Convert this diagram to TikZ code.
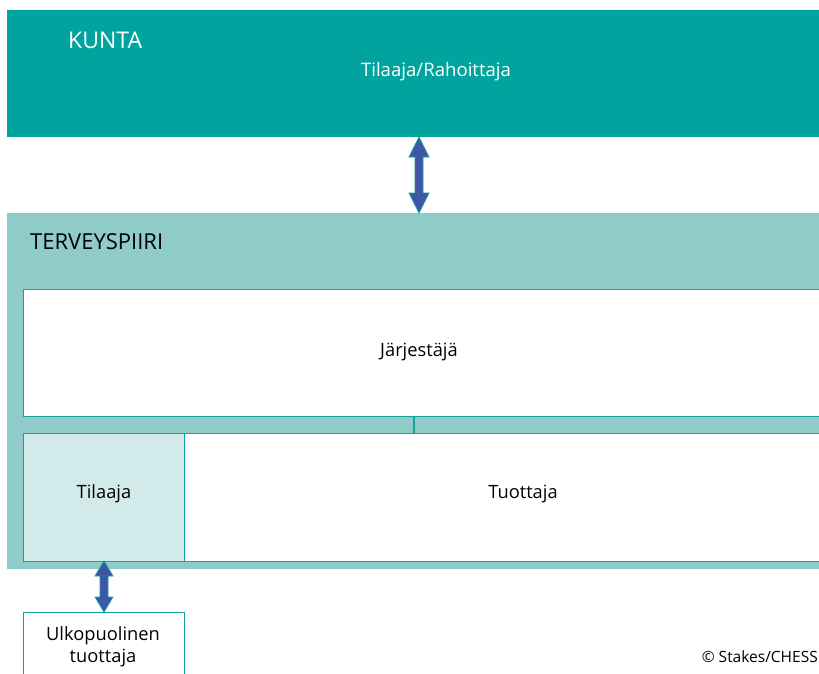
\documentclass[tikz,border=0pt]{standalone}
\usepackage{fontspec}
\setmainfont{Open Sans}
\definecolor{kunta}{HTML}{00A39E}
\definecolor{terv}{HTML}{8FCCC9}
\definecolor{tilaajafill}{HTML}{D3EAEA}
\definecolor{edge}{HTML}{13A39A}
\definecolor{arrowblue}{HTML}{3F56A6}
\begin{document}
\begin{tikzpicture}[x=1pt,y=-1pt,
  band/.style={draw=none,inner sep=0pt,anchor=north west},
  whitebox/.style={draw=edge,line width=1.2pt,fill=white,inner sep=0pt,anchor=north west},
  lbl/.style={font=\fontsize{18.3}{22}\selectfont,text=black},
  dblarrow/.style={fill=arrowblue,draw=edge,line width=0.8pt,line join=miter}]
\useasboundingbox (0,0) rectangle (819,673);
\clip (0,0) rectangle (819,673);
% KUNTA
\node[band,fill=kunta,minimum width=830pt,minimum height=127pt] (kunta) at (7,10) {};
\node[anchor=west,text=white,font=\fontsize{23}{26}\selectfont,inner sep=0pt] (kuntat) at (68,40) {KUNTA};
\node[text=white,font=\fontsize{18.6}{22}\selectfont] (tilrah) at (436,72) {Tilaaja/Rahoittaja};
% TERVEYSPIIRI
\node[band,fill=terv,minimum width=830pt,minimum height=356pt] (terv) at (7,213) {};
\node[anchor=west,font=\fontsize{22}{25}\selectfont,inner sep=0pt] (tervt) at (30,242) {TERVEYSPIIRI};
% Jarjestaja
\node[whitebox,minimum width=820pt,minimum height=127pt] (jarj) at (23,289) {};
\node[lbl] at (419,352) {Järjestäjä};
% Tilaaja
\node[whitebox,fill=tilaajafill,minimum width=161pt,minimum height=128pt] (tilaaja) at (23,433) {};
\node[lbl] at (104,494) {Tilaaja};
% Tuottaja
\node[whitebox,minimum width=660pt,minimum height=128pt] (tuottaja) at (184,433) {};
\node[lbl] at (523,494) {Tuottaja};
% connector between Jarjestaja and Tuottaja
\coordinate (c1) at (414,416);
\coordinate (c2) at (414,433);
\draw[edge,line width=1.5pt] (c1) -- (c2);
% Ulkopuolinen tuottaja
\node[whitebox,minimum width=161pt,minimum height=80pt] (ulko) at (23,612) {};
\node[lbl,align=center,font=\fontsize{18.3}{22}\selectfont] at (103,646.5) {Ulkopuolinen\\tuottaja};
% arrows
\draw[dblarrow] (419,137) -- (429,157) -- (423,157) -- (423,193) -- (429,193) -- (419,213) -- (409,193) -- (415,193) -- (415,157) -- (409,157) -- cycle;
\draw[dblarrow] (104,561) -- (113,576) -- (108,576) -- (108,597) -- (113,597) -- (104,612) -- (95,597) -- (100,597) -- (100,576) -- (95,576) -- cycle;
% copyright
\node[anchor=east,font=\fontsize{15.5}{18}\selectfont,inner sep=0pt] (copy) at (818,657) {© Stakes/CHESS};
\end{tikzpicture}
\end{document}
